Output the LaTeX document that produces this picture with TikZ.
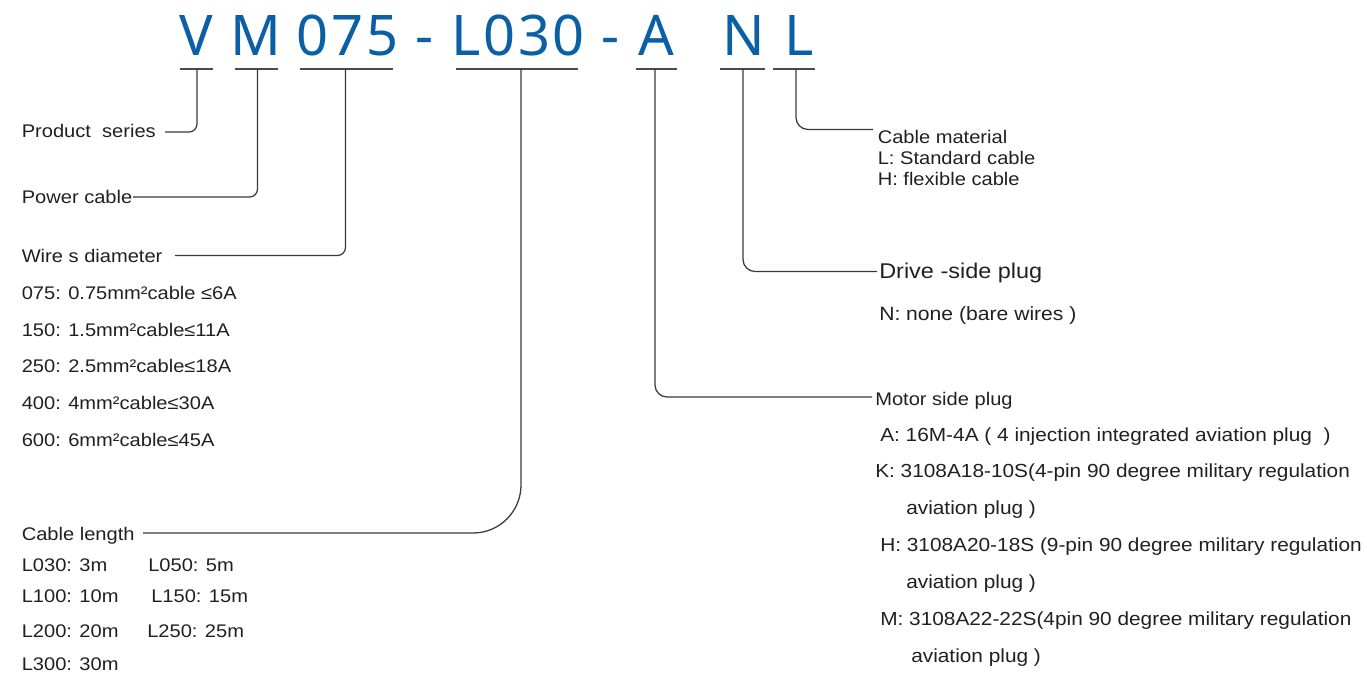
\documentclass[tikz,border=0pt]{standalone}
\usepackage{fontspec}
\setmainfont{Liberation Sans}[FakeStretch=1.1]
\newfontfamily\hdrfont{Noto Sans}[LetterSpace=5]
\definecolor{hblue}{HTML}{0B5FA5}
\definecolor{txtc}{HTML}{231F20}
\definecolor{linec}{HTML}{3A3A3A}
\definecolor{ulc}{HTML}{4A4A4A}
\begin{document}
\begin{tikzpicture}[x=0.75pt,y=-0.75pt,
  hdr/.style={anchor=base,inner sep=0pt,text=hblue,font=\hdrfont\fontsize{42}{48}\selectfont},
  lbl/.style={anchor=base west,inner sep=0pt,text=txtc,font=\fontsize{13.7}{16}\selectfont},
  lblr/.style={anchor=base west,inner sep=0pt,text=txtc,font=\fontsize{14.2}{17}\selectfont},
  lbld/.style={anchor=base west,inner sep=0pt,text=txtc,font=\fontsize{16}{19}\selectfont},
  lbln/.style={anchor=base west,inner sep=0pt,text=txtc,font=\fontsize{14.4}{17}\selectfont},
  uline/.style={draw=ulc,line width=1.2pt},
  conn/.style={draw=linec,line width=0.95pt,rounded corners=6pt},
  connr/.style={draw=linec,line width=0.95pt,rounded corners=9pt}]
\useasboundingbox (0,0) rectangle (1367,675);

% header code
\node[hdr] (hV) at (196,55) {V};
\node[hdr] (hM) at (256,55) {M};
\node[hdr] (h075) at (347.5,55) {075};
\node[hdr] (hd1) at (425,55) {-};
\node[hdr] (hL030) at (518,55) {L030};
\node[hdr] (hd2) at (611,55) {-};
\node[hdr] (hA) at (656,55) {A};
\node[hdr] (hN) at (744,55) {N};
\node[hdr] (hL) at (799,55) {L};

% underlines
\coordinate (uV1) at (180,69); \coordinate (uV2) at (213,69);
\coordinate (uM1) at (235,69); \coordinate (uM2) at (278,69);
\coordinate (u0751) at (300,69); \coordinate (u0752) at (393,69);
\coordinate (uL1) at (456,69); \coordinate (uL2) at (578,69);
\coordinate (uA1) at (636,69); \coordinate (uA2) at (677,69);
\coordinate (uN1) at (720,69); \coordinate (uN2) at (765,69);
\coordinate (uC1) at (773,69); \coordinate (uC2) at (815,69);
\foreach \a/\b in {uV1/uV2,uM1/uM2,u0751/u0752,uL1/uL2,uA1/uA2,uN1/uN2,uC1/uC2}
  \draw[uline] (\a) -- (\b);

% tick points
\coordinate (tV) at (197,69);
\coordinate (tM) at (257.5,69);
\coordinate (t075) at (345.5,69);
\coordinate (tL030) at (521,69);
\coordinate (tA) at (655,69);
\coordinate (tN) at (743,69);
\coordinate (tC) at (796,69);

% left labels
\node[lbl] (ps) at (21.5,137) {Product\ \ series};
\node[lbl] (pc) at (21.5,203) {Power cable};
\node[lbl] (wd) at (21.5,262) {Wire s diameter};
\node[lbl] (w1) at (21.5,299) {075: 0.75mm²cable ≤6A};
\node[lbl] (w2) at (21.5,336) {150: 1.5mm²cable≤11A};
\node[lbl] (w3) at (21.5,372) {250: 2.5mm²cable≤18A};
\node[lbl] (w4) at (21.5,409) {400: 4mm²cable≤30A};
\node[lbl] (w5) at (21.5,446) {600: 6mm²cable≤45A};
\node[lbl] (cl) at (21.5,540) {Cable length};
\node[lbl] (l1) at (21.5,571) {L030: 3m};
\node[lbl] (l2) at (148,571) {L050: 5m};
\node[lbl] (l3) at (21.5,602) {L100: 10m};
\node[lbl] (l4) at (151,602) {L150: 15m};
\node[lbl] (l5) at (21.5,637) {L200: 20m};
\node[lbl] (l6) at (147,637) {L250: 25m};
\node[lbl] (l7) at (21.5,670) {L300: 30m};

% right labels
\node[lbl] (cm) at (877.5,143) {Cable material};
\node[lbl] (cm1) at (877.5,164) {L: Standard cable};
\node[lbl] (cm2) at (877.5,185) {H: flexible cable};
\node[lbld] (ds) at (879,278) {Drive -side plug};
\node[lbln] (ds1) at (879,320) {N: none (bare wires )};
\node[lbl] (ms) at (875,405) {Motor side plug};
\node[lblr] (m1) at (880,441) {A: 16M-4A ( 4 injection integrated aviation plug\ \ )};
\node[lblr] (m2) at (875,477) {K: 3108A18-10S(4-pin 90 degree military regulation};
\node[lblr] (m3) at (906,514) {aviation plug )};
\node[lblr] (m4) at (880,551) {H: 3108A20-18S (9-pin 90 degree military regulation};
\node[lblr] (m5) at (906,588) {aviation plug )};
\node[lblr] (m6) at (880,625) {M: 3108A22-22S(4pin 90 degree military regulation};
\node[lblr] (m7) at (911,662) {aviation plug )};

% connector ends
\coordinate (ePS) at (165,132);
\coordinate (ePC) at (133,197);
\coordinate (eWD) at (175,255.5);
\coordinate (eCL) at (143,533);
\coordinate (eMS) at (872,397);
\coordinate (eDS) at (877,271.5);
\coordinate (eCM) at (873,129.5);

% connectors
\draw[conn] (tV) |- (ePS);
\draw[conn] (tM) |- (ePC);
\draw[conn] (t075) |- (eWD);
\draw[conn,rounded corners=36pt] (tL030) |- (eCL);
\draw[connr] (tA) |- (eMS);
\draw[connr] (tN) |- (eDS);
\draw[connr] (tC) |- (eCM);
\end{tikzpicture}
\end{document}
